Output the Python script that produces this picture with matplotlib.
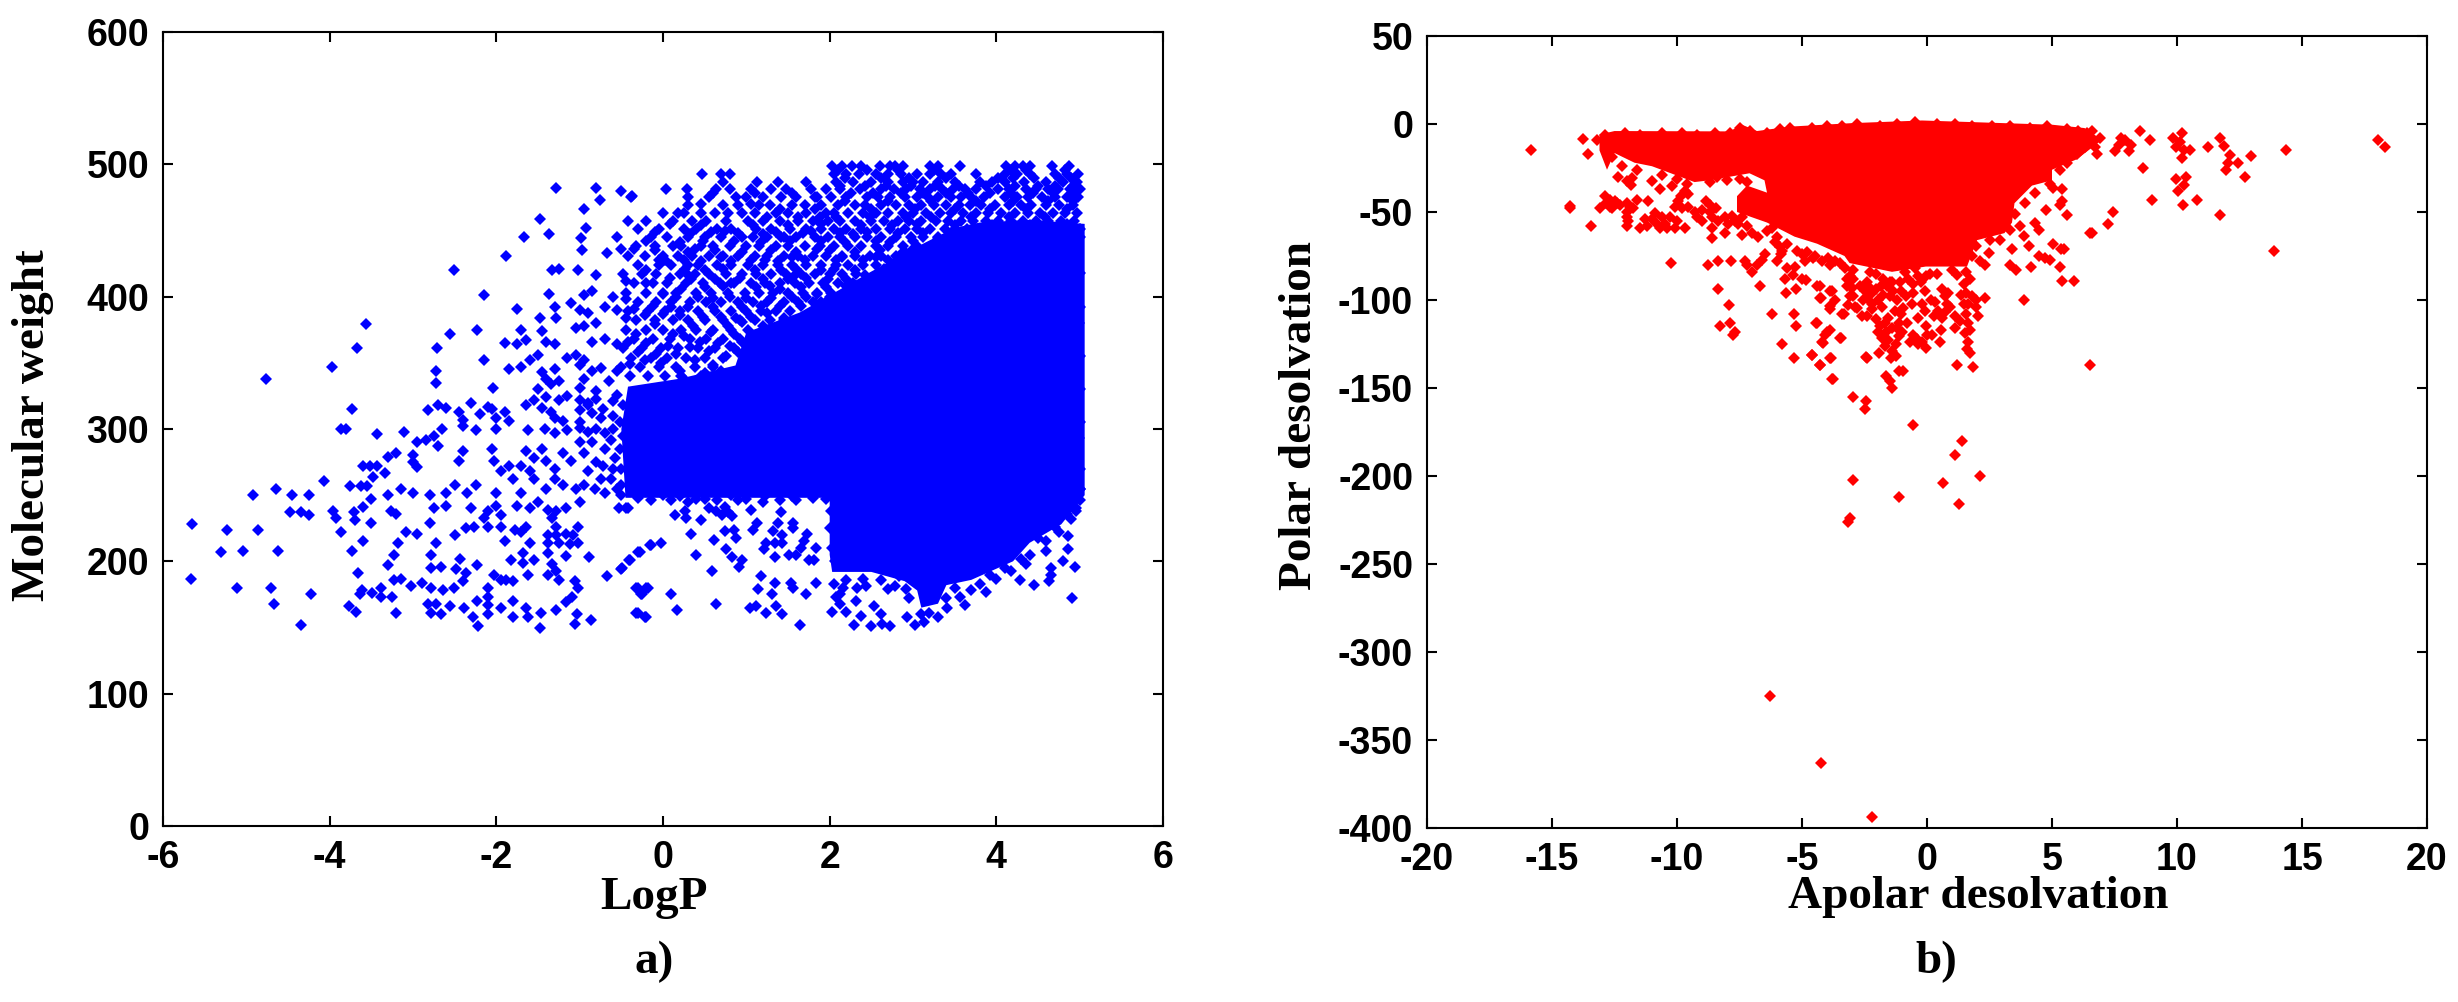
import matplotlib
matplotlib.use('Agg')
import matplotlib.pyplot as plt

plt.rcParams['axes.unicode_minus'] = False

# panel a) solid part of the cloud, outline
core_logp = [-0.45, -0.5, -0.42, 0.2, 0.87, 1.0, 1.64, 2.5, 3.15, 3.5, 3.8, 4.4, 5.06, 5.06, 4.78, 4.4, 4.2, 3.7, 3.4, 3.3, 3.1, 3.05, 2.9, 2.5, 2.03, 2.0, 2.0, -0.45]
core_mw = [248, 300, 332, 338, 348, 373, 388, 419, 441, 452, 456, 458, 455, 250, 228, 214, 200, 186, 182, 168, 165, 178, 185, 192, 192, 205, 248, 248]

# panel a) separate points, low LogP side
tail_a = [(-4.76, 338), (-3.97, 347), (-3.67, 361), (-3.56, 379), (-2.51, 420), (-2.15, 401), (-1.89, 431), (-1.67, 445),
          (-1.48, 459), (-1.37, 447), (-1.28, 482), (-0.81, 482), (-0.76, 473), (-0.51, 480), (-0.37, 476), (-0.95, 466),
          (-0.92, 452), (-0.99, 444), (-0.97, 435), (-1.75, 391), (-1.48, 384), (-2.56, 372), (-2.23, 375), (-2.71, 361),
          (-2.73, 344), (-2.73, 335), (-2.04, 331), (-3.73, 315), (-3.87, 300), (-3.8, 300), (-3.43, 296), (-3.11, 298),
          (-1.33, 420), (-1.25, 421), (-1.02, 420), (-0.8, 416), (-0.67, 433), (-0.5, 436), (-1.37, 402), (-0.95, 401),
          (-0.85, 404), (-0.6, 400), (-0.45, 398), (-1.3, 392), (-1.1, 395), (-1.0, 390), (-0.9, 388), (-0.7, 392), (-0.55, 390),
          (-1.28, 384), (-1.7, 375), (-1.45, 374), (-1.05, 376), (-0.95, 378), (-0.8, 380), (-1.9, 365), (-1.75, 364), (-1.65, 367),
          (-1.4, 366), (-1.3, 364), (-0.85, 366), (-0.7, 368), (-0.55, 364), (-2.15, 352), (-1.6, 352), (-1.5, 356), (-1.15, 354),
          (-1.05, 356), (-0.95, 352), (-1.85, 345), (-1.7, 347), (-1.45, 343), (-1.3, 345), (-1.0, 348), (-0.85, 344), (-0.75, 346),
          (-0.55, 344), (-1.4, 338), (-1.25, 336), (-0.95, 338), (-0.65, 336), (-1.35, 334), (-1.5, 330), (-1.0, 331), (-0.8, 329),
          (-1.55, 322), (-1.4, 324), (-1.25, 322), (-1.15, 325), (-1.0, 322), (-0.9, 320), (-0.8, 323), (-0.6, 321),
          (-2.7, 318), (-2.3, 320), (-2.1, 317), (-1.65, 318), (-1.45, 316), (-2.82, 314), (-2.6, 316), (-2.45, 313), (-2.2, 311),
          (-2.05, 315), (-1.9, 313), (-1.35, 313), (-1.0, 314), (-0.85, 312), (-2.4, 307), (-2.0, 308), (-1.85, 306), (-1.3, 308),
          (-1.2, 306), (-1.0, 305), (-0.75, 308), (-2.65, 300), (-2.4, 302), (-2.25, 299), (-2.0, 300), (-1.62, 299), (-1.42, 300),
          (-1.3, 297), (-1.15, 299), (-1.0, 301), (-0.9, 298), (-0.8, 300), (-0.7, 297), (-0.6, 300), (-3.2, 282), (-3.3, 279),
          (-3.0, 280), (-2.95, 290), (-2.85, 292), (-2.75, 295), (-2.7, 287), (-3.0, 275), (-2.95, 271), (-2.4, 283), (-2.45, 276),
          (-2.05, 285), (-2.03, 276), (-1.95, 268), (-1.85, 272), (-1.8, 262), (-1.65, 283), (-1.55, 278), (-1.7, 272), (-1.6, 268),
          (-1.45, 285), (-1.4, 276), (-1.3, 270), (-1.55, 262), (-1.3, 262), (-1.2, 282), (-1.1, 276), (-1.0, 290), (-0.95, 282),
          (-0.8, 275), (-0.7, 285), (-0.9, 268), (-0.75, 262), (-0.6, 270), (-0.55, 255), (-1.05, 255), (-1.2, 258), (-1.4, 255),
          (-1.7, 252), (-2.0, 252), (-2.25, 258), (-2.35, 252), (-2.5, 258), (-2.6, 252), (-2.8, 250), (-3.0, 252), (-3.15, 255),
          (-3.3, 250), (-3.5, 247), (-4.92, 250), (-4.64, 255), (-4.45, 250), (-4.25, 250), (-4.07, 261), (-3.76, 257), (-3.63, 257),
          (-3.55, 257), (-3.6, 272), (-3.52, 272), (-3.43, 272), (-3.48, 264), (-3.34, 267)]
tail_b = [(-5.65, 228), (-5.67, 187), (-5.31, 207), (-5.23, 224), (-5.04, 208), (-4.86, 224), (-4.62, 208), (-5.11, 180), (-4.7, 180),
          (-4.67, 168), (-4.22, 175), (-4.34, 152), (-4.48, 237), (-4.34, 237), (-4.25, 235), (-3.96, 238), (-3.93, 233), (-3.71, 237),
          (-3.7, 231), (-3.6, 241), (-3.51, 229), (-3.87, 222), (-3.27, 238), (-3.2, 236), (-3.73, 208), (-3.6, 215), (-3.66, 191),
          (-3.77, 166), (-3.68, 162), (-3.61, 178), (-3.64, 175), (-3.49, 176), (-3.38, 180), (-3.38, 173), (-3.25, 173), (-3.23, 186),
          (-3.15, 187), (-3.2, 161), (-3.3, 197), (-3.23, 205), (-3.18, 214), (-3.08, 222), (-2.95, 221), (-2.8, 229), (-3.02, 181),
          (-2.89, 184), (-2.79, 180), (-2.64, 178), (-2.51, 180), (-2.4, 185), (-2.79, 205), (-2.72, 214), (-2.79, 195), (-2.66, 196),
          (-2.82, 168), (-2.72, 168), (-2.79, 161), (-2.66, 160), (-2.56, 166), (-2.39, 165), (-2.28, 158), (-2.22, 151), (-2.23, 170),
          (-2.1, 160), (-2.1, 167), (-1.95, 165), (-1.8, 170), (-1.8, 158), (-1.65, 165), (-1.62, 158), (-1.47, 161), (-1.48, 150),
          (-1.29, 163), (-1.17, 169), (-1.06, 153), (-1.03, 160), (-0.87, 156), (-1.09, 173), (-1.02, 180), (-1.06, 185), (-0.89, 203),
          (-0.67, 189), (-0.51, 194), (-0.4, 201), (-0.28, 207), (-0.15, 212), (-0.3, 180), (-0.18, 180), (-0.25, 175), (-0.3, 161),
          (-0.2, 158), (-0.53, 240), (-0.42, 240), (-2.03, 190), (-1.95, 186), (-1.88, 186), (-1.8, 185), (-2.1, 180), (-2.1, 173),
          (-2.36, 191), (-2.23, 197), (-2.44, 202), (-2.49, 194), (-1.83, 201), (-1.68, 206), (-1.55, 201), (-1.62, 190), (-1.68, 199),
          (-1.38, 206), (-1.33, 198), (-1.28, 193), (-1.38, 190), (-1.25, 186), (-1.17, 204), (-1.38, 220), (-1.28, 220), (-1.17, 221),
          (-1.08, 220), (-1.38, 214), (-1.25, 214), (-1.12, 213), (-1.02, 214), (-1.28, 226), (-1.02, 226), (-1.38, 239), (-1.28, 238),
          (-1.17, 240), (-1.33, 233), (-1.65, 226), (-1.78, 224), (-1.7, 222), (-1.6, 214), (-2.5, 220), (-2.37, 225), (-2.27, 226),
          (-2.1, 226), (-1.95, 226), (-1.9, 215), (-2.75, 240), (-2.6, 242), (-2.3, 240), (-2.1, 238), (-2.0, 242), (-1.75, 242),
          (-1.6, 240), (-2.15, 233), (-1.95, 235), (-1.5, 245), (-1.0, 245)]
under_gap = [(-0.44, 240), (0.14, 235), (0.26, 238), (0.28, 233), (0.45, 231), (0.55, 240), (0.63, 238), (0.71, 235), (0.78, 237), (0.74, 241),
             (0.83, 234), (1.06, 239), (1.42, 237), (1.38, 229), (1.56, 229), (1.56, 225), (1.13, 229), (1.08, 224), (0.74, 223), (0.85, 224),
             (0.87, 218), (0.34, 221), (0.61, 216), (1.32, 223), (1.43, 220), (1.73, 221), (1.69, 215), (1.23, 214), (1.34, 214), (1.43, 214),
             (1.21, 209), (1.84, 210), (1.51, 205), (1.6, 205), (1.66, 210), (1.34, 203), (1.75, 201), (1.81, 201), (0.75, 209), (0.83, 203),
             (0.95, 201), (0.91, 196), (0.4, 205), (-0.02, 214), (-0.16, 212), (-0.3, 207), (-0.41, 201), (-0.49, 195), (0.59, 193), (1.17, 189),
             (1.34, 184), (1.54, 184), (1.56, 180), (1.84, 184), (1.14, 179), (1.31, 175), (1.72, 175), (-0.33, 180), (-0.2, 180), (-0.27, 175),
             (0.09, 175), (0.64, 168), (0.17, 163), (-0.33, 161), (-0.22, 158), (1.04, 165), (1.12, 166), (1.23, 161), (1.36, 166), (1.43, 160),
             (1.64, 152), (0.1, 246), (0.3, 245), (0.5, 247), (0.9, 246), (1.2, 245), (1.6, 246)]
lower_right = [(4.86, 219), (4.86, 209), (4.94, 196), (4.8, 200), (4.65, 195), (4.65, 190), (4.63, 185), (4.91, 172), (4.45, 182), (4.28, 186),
               (4.3, 202), (4.59, 208), (4.5, 218), (3.88, 177), (3.69, 178), (3.62, 167), (3.56, 173), (3.41, 165), (3.3, 158), (3.19, 161),
               (3.13, 154), (3.02, 152), (2.93, 158), (2.72, 151), (2.63, 153), (2.61, 160), (2.5, 151), (2.29, 152), (2.38, 159), (2.53, 166),
               (2.31, 170), (2.03, 162), (2.2, 162), (2.12, 168), (2.07, 173), (2.16, 180), (2.33, 180), (2.44, 181), (2.7, 179), (2.78, 181),
               (2.91, 179), (2.83, 189), (3.4, 172), (4.0, 187), (3.92, 190), (2.12, 175), (2.05, 183), (3.1, 160), (3.25, 172), (4.95, 240),
               (4.9, 232), (5.0, 255), (4.75, 222), (4.4, 205), (4.1, 195), (2.2, 186), (2.4, 187), (2.62, 186), (2.95, 172), (3.5, 180), (3.8, 183),
               (4.18, 193), (4.35, 198), (4.6, 215), (4.7, 226), (4.85, 236), (2.06, 200), (2.03, 210), (2.0, 225), (2.02, 238)]

# panel a) thinner upper part of the cloud, one LogP list per MW level
rows_mw = [499, 493, 487, 481, 475, 469, 463, 457, 451, 445, 438, 431, 424, 417, 410, 403, 396, 389, 382, 375, 368, 361, 354, 347, 340]
rows_logp = [
    [2.03, 2.15, 2.27, 2.37, 2.6, 2.72, 2.78, 2.88, 3.2, 3.3, 3.56, 4.12, 4.22, 4.32, 4.4, 4.67, 4.87],
    [0.47, 0.7, 0.8, 2.05, 2.2, 2.35, 2.55, 2.7, 2.85, 3.05, 3.2, 3.33, 3.45, 3.75, 4.1, 4.25, 4.4, 4.7, 4.85, 4.98],
    [0.72, 1.13, 1.38, 1.71, 2.08, 2.28, 2.5, 2.7, 2.88, 3.0, 3.12, 3.3, 3.5, 3.8, 3.95, 4.1, 4.33, 4.6, 4.8, 4.97],
    [0.03, 0.29, 0.64, 0.8, 1.05, 1.3, 1.48, 1.78, 1.95, 2.12, 2.36, 2.62, 2.77, 2.92, 3.08, 3.2, 3.35, 3.48, 3.62, 3.76, 4.02, 4.15, 4.35, 4.48, 4.62, 4.74, 4.88, 5.0],
    [-0.38, 0.3, 0.55, 0.88, 1.0, 1.2, 1.42, 1.6, 1.85, 2.02, 2.2, 2.45, 2.58, 2.72, 2.9, 3.05, 3.18, 3.3, 3.45, 3.58, 3.7, 3.85, 4.1, 4.25, 4.38, 4.55, 4.7, 4.85, 4.98],
    [0.3, 0.72, 0.9, 1.15, 1.28, 1.55, 1.7, 1.9, 2.1, 2.3, 2.42, 2.62, 2.8, 2.95, 3.1, 3.25, 3.4, 3.55, 3.68, 3.82, 3.98, 4.15, 4.3, 4.42, 4.6, 4.75, 4.92],
    [0.0, 0.18, 0.45, 0.62, 0.95, 1.1, 1.35, 1.5, 1.72, 1.95, 2.05, 2.22, 2.4, 2.55, 2.7, 2.88, 3.0, 3.15, 3.32, 3.45, 3.6, 3.75, 3.9, 4.05, 4.22, 4.38, 4.52, 4.68, 4.82, 4.97],
    [-0.42, -0.2, 0.12, 0.35, 0.52, 0.75, 1.02, 1.2, 1.4, 1.62, 1.8, 1.98, 2.12, 2.3, 2.5, 2.65, 2.82, 2.95, 3.1, 3.28, 3.42, 3.58, 3.72, 3.88, 4.02, 4.18, 4.32, 4.48, 4.62, 4.78, 4.93],
    [-0.3, -0.05, 0.25, 0.4, 0.65, 0.82, 1.12, 1.3, 1.52, 1.72, 1.9, 2.05, 2.2, 2.38, 2.55, 2.72, 2.9, 3.05, 3.2, 3.38, 3.5, 3.65, 3.8, 3.95, 4.1, 4.25, 4.4, 4.55, 4.72, 4.88, 5.0],
    [-0.55, -0.15, 0.05, 0.3, 0.5, 0.7, 0.95, 1.08, 1.25, 1.42, 1.6, 1.82, 1.98, 2.12, 2.3, 2.45, 2.62, 2.8, 2.98, 3.12, 3.3, 3.45, 3.6, 3.75],
    [-0.32, -0.1, 0.12, 0.22, 0.45, 0.6, 0.8, 1.0, 1.15, 1.35, 1.5, 1.7, 1.88, 2.05, 2.22, 2.38, 2.55, 2.7, 2.88, 3.05],
    [-0.42, -0.22, 0.0, 0.18, 0.35, 0.55, 0.72, 0.9, 1.1, 1.25, 1.45, 1.62, 1.8, 1.95, 2.15, 2.3, 2.48, 2.62, 2.8, 3.0],
    [-0.3, -0.05, 0.1, 0.3, 0.42, 0.65, 0.82, 1.02, 1.2, 1.38, 1.55, 1.72, 1.9, 2.08, 2.22, 2.4, 2.55],
    [-0.48, -0.25, -0.08, 0.2, 0.38, 0.55, 0.75, 0.95, 1.12, 1.3, 1.48, 1.65, 1.82, 2.0, 2.15, 2.32],
    [-0.35, -0.12, 0.05, 0.28, 0.48, 0.68, 0.85, 1.05, 1.22, 1.4, 1.58, 1.75, 1.92, 2.1, 2.28],
    [-0.45, -0.2, 0.0, 0.15, 0.4, 0.58, 0.78, 0.98, 1.15, 1.32, 1.5, 1.68, 1.85, 2.02],
    [-0.3, -0.08, 0.1, 0.32, 0.52, 0.7, 0.9, 1.08, 1.25, 1.45, 1.62, 1.8, 1.95],
    [-0.42, -0.18, 0.02, 0.2, 0.42, 0.62, 0.82, 1.0, 1.18, 1.35, 1.52],
    [-0.33, -0.1, 0.12, 0.3, 0.5, 0.72, 0.92, 1.1, 1.28, 1.45],
    [-0.45, -0.2, 0.0, 0.22, 0.4, 0.6, 0.82, 1.02],
    [-0.35, -0.12, 0.08, 0.32, 0.52, 0.72, 0.92],
    [-0.48, -0.25, -0.02, 0.18, 0.42, 0.62, 0.85],
    [-0.38, -0.15, 0.05, 0.28, 0.5, 0.72],
    [-0.5, -0.28, -0.05, 0.15, 0.38, 0.6],
    [-0.4, -0.18, 0.02, 0.22, 0.45],
]
# clumps between those levels, and the rough rim of the solid part
clumps_a = [(-0.4, 349), (-0.22, 352), (-0.02, 350), (0.2, 344), (0.38, 352), (0.6, 348), (0.75, 355), (0.9, 358), (-0.3, 358), (-0.08, 357),
            (0.15, 357), (0.32, 362), (0.55, 359), (0.8, 363), (-0.42, 366), (-0.2, 365), (0.06, 363), (0.25, 370), (0.44, 366), (0.66, 365),
            (0.85, 372), (-0.33, 372), (-0.1, 379), (0.12, 372), (0.36, 378), (0.58, 373), (0.78, 378), (0.95, 381), (-0.45, 384), (-0.22, 386),
            (0.0, 387), (0.2, 386), (0.48, 385), (0.7, 385), (0.88, 384), (1.05, 385), (1.25, 388), (-0.35, 391), (-0.12, 393), (0.1, 392), (0.3, 392),
            (0.6, 392), (0.95, 392), (1.18, 393), (1.4, 393), (1.65, 393), (1.82, 395), (0.16, 400), (0.42, 400), (0.6, 399), (0.8, 400), (1.0, 399),
            (1.3, 399), (1.55, 400), (1.72, 400), (2.0, 400), (2.1, 398), (0.22, 406), (0.5, 407), (0.72, 408), (1.12, 407), (1.4, 406), (1.65, 407),
            (1.95, 407), (2.25, 406), (0.08, 414), (0.34, 413), (0.62, 413), (0.92, 414), (1.2, 413), (1.5, 413), (1.72, 414), (1.98, 413), (2.2, 413),
            (2.42, 412), (-0.2, 420), (0.26, 421), (0.5, 420), (0.72, 421), (1.1, 420), (1.42, 420), (1.6, 421), (1.9, 420), (2.05, 421), (2.3, 420),
            (2.65, 421), (0.02, 428), (0.25, 428), (0.45, 427), (0.82, 427), (1.22, 428), (1.38, 427), (1.7, 428), (2.08, 428), (2.4, 428), (2.7, 428),
            (2.95, 427), (-0.1, 435), (0.3, 434), (0.62, 435), (0.95, 434), (1.3, 435), (1.6, 434), (2.0, 435), (2.3, 434), (2.6, 435), (2.9, 434),
            (3.2, 434), (-0.2, 442), (0.2, 441), (0.48, 442), (0.85, 442), (1.18, 441), (1.52, 442), (1.9, 442), (2.18, 441), (2.55, 442), (2.72, 441),
            (3.0, 442), (3.38, 441), (3.62, 442), (0.58, 449), (0.9, 448), (1.35, 449), (1.68, 448), (2.12, 448), (2.45, 449), (2.82, 448), (3.12, 448),
            (3.45, 448), (0.08, 455), (0.45, 454), (1.08, 454), (1.5, 454), (1.9, 455), (2.38, 454), (2.75, 454), (3.05, 455), (3.5, 454), (3.95, 454),
            (4.4, 454), (4.85, 455), (2.08, 460), (2.48, 460), (2.92, 460), (3.22, 460), (3.7, 460), (4.15, 460), (4.58, 460), (2.5, 466), (3.02, 466),
            (3.5, 466), (3.92, 466), (4.35, 466), (4.85, 466), (2.18, 472), (2.7, 472), (3.22, 472), (3.75, 472), (4.2, 472), (4.62, 472), (4.92, 472),
            (-0.9, 318), (-0.72, 315), (-0.6, 310), (-0.52, 305), (-0.48, 318), (-0.55, 326), (-0.62, 292), (-0.52, 285), (-0.48, 295), (-0.58, 278),
            (-0.5, 270), (-0.62, 262), (-0.5, 258), (-0.72, 272), (-0.85, 290), (-0.82, 255), (-0.95, 258), (-0.7, 252), (-0.5, 250), (-0.35, 252)]
top_band = [(2.25, 478), (2.52, 478), (2.85, 478), (3.12, 478), (3.4, 478), (3.66, 478), (3.92, 478), (4.18, 478), (4.44, 478), (4.68, 478), (4.93, 478),
            (2.12, 484), (2.42, 484), (2.68, 484), (2.98, 484), (3.26, 484), (3.55, 484), (3.88, 484), (4.22, 484), (4.5, 484), (4.7, 484), (4.92, 484),
            (2.18, 490), (2.62, 490), (2.95, 490), (3.4, 490), (4.02, 490), (4.2, 490), (4.45, 490), (4.75, 490), (4.9, 490), (2.1, 496), (2.45, 496), (2.82, 496),
            (3.25, 496), (4.18, 496), (4.35, 496), (4.82, 496), (0.6, 478), (1.1, 478), (1.55, 478), (1.82, 475), (0.45, 470), (1.05, 470), (1.4, 466), (1.82, 466),
            (0.25, 463), (0.78, 463), (1.25, 460), (1.62, 460), (1.88, 460), (-0.1, 449), (0.32, 447), (0.74, 450), (1.2, 447), (1.45, 445), (1.78, 450), (2.28, 447),
            (-0.35, 436), (-0.05, 428), (0.38, 436), (0.7, 430), (1.05, 428), (1.55, 430), (1.85, 436), (2.15, 430), (2.55, 430), (2.85, 432), (-0.45, 412), (-0.2, 410),
            (0.0, 402), (0.3, 416), (0.82, 410), (1.28, 408), (1.58, 416), (1.85, 402)]
edge_a = [(-0.3, 248), (-0.15, 246), (0.0, 250), (0.2, 249), (0.4, 247), (0.65, 246), (0.82, 250), (1.0, 247), (1.22, 249), (1.4, 246), (1.55, 249),
          (1.8, 248), (1.95, 247), (0.25, 338), (0.5, 342), (0.7, 344), (0.95, 366), (1.2, 378), (1.45, 384), (1.9, 396), (2.2, 408), (2.42, 416),
          (2.8, 427), (3.0, 436), (3.3, 444), (3.6, 446)]
right_edge_logp = [5.0, 4.98, 5.0, 4.97, 5.0, 4.99, 4.98, 5.0, 4.97, 5.0, 4.98, 5.0, 4.99, 4.97, 5.0, 4.98, 5.0, 4.96, 5.0, 4.98]
right_edge_mw = [445, 430, 418, 405, 392, 380, 368, 355, 342, 330, 318, 305, 293, 282, 270, 262, 255, 238, 246, 432]

# panel b) solid part of the cloud
core_apolar = [-13.1, -12.5, -7.9, -7.4, -6.8, -5.5, -3.0, -0.2, 5.0, 6.3, 7.0, 6.0, 5.0, 5.0, 4.2, 3.5, 3.4, 3.1, 2.0, 1.6, -0.05, -1.4, -3.1, -3.3, -4.4, -5.3, -6.4, -7.6, -7.6, -7.2, -6.4, -6.5, -7.1, -8.7, -9.3, -11.0, -11.7, -12.5, -12.8, -13.1]
core_polar = [-6, -4, -4.2, -0.4, -4, -1.5, 0.5, 2, -0.4, -2.3, -9, -20, -26, -32, -35, -45, -56, -62, -66, -81, -81, -84, -79, -75, -68, -64, -56, -50, -41, -35, -39, -32, -28, -32, -33, -24, -22, -16.5, -26, -15]

# panel b) separate points
left_wing = [(-15.84, -14.6), (-13.76, -8.5), (-13.56, -16.9), (-13.2, -9), (-12.36, -30), (-12.0, -32.6), (-11.8, -30.7), (-11.85, -34.5),
             (-11.0, -32.6), (-10.7, -37), (-10.2, -35), (-8.7, -33), (-14.28, -46.8), (-14.3, -47.5), (-13.44, -57.8), (-12.88, -41), (-13.1, -48),
             (-12.7, -47), (-12.4, -45), (-12.85, -45), (-12.6, -48), (-12.0, -45), (-11.6, -43), (-12.0, -50), (-12.0, -53), (-12.0, -58), (-11.9, -47),
             (-11.16, -43.6), (-11.2, -57.8), (-10.9, -50.6), (-11.0, -54), (-10.7, -59), (-10.3, -53), (-10.5, -57), (-10.1, -59), (-9.7, -59), (-9.7, -38),
             (-9.95, -44), (-10.1, -47), (-9.8, -48), (-9.0, -49), (-8.7, -46), (-8.7, -50), (-9.0, -55), (-8.6, -53), (-8.1, -53), (-7.7, -55),
             (-8.6, -59), (-8.1, -62), (-8.6, -65), (-7.4, -53), (-7.2, -58), (-7.4, -63), (-6.4, -61), (-6.0, -64), (-5.9, -70), (-5.85, -74),
             (-10.24, -79), (-8.76, -80), (-8.36, -77.6), (-7.84, -77.6), (-7.2, -80), (-7.0, -84), (-6.8, -80), (-6.5, -74), (-6.6, -77), (-6.0, -77.6),
             (-12.7, -43), (-12.5, -44), (-12.3, -46), (-11.95, -55), (-11.75, -48), (-11.5, -59), (-11.3, -54), (-10.85, -56), (-10.6, -53), (-10.4, -59),
             (-10.0, -55), (-9.55, -40), (-9.85, -41), (-9.55, -47), (-9.3, -50), (-9.2, -53), (-8.85, -44), (-8.45, -48), (-8.35, -55), (-7.95, -57),
             (-7.8, -52), (-7.55, -57), (-7.0, -62), (-6.75, -64), (-6.2, -59), (-6.1, -67), (-5.6, -68), (-5.2, -72), (-5.0, -74), (-4.8, -73), (-4.5, -75),
             (-3.95, -76), (-3.7, -78), (-3.3, -82), (-5.8, -72), (-7.3, -78), (-12.6, -19), (-12.2, -24), (-11.6, -26), (-10.6, -29), (-10.0, -31),
             (-9.6, -34), (-8.4, -30), (-8.0, -32), (-7.5, -31), (-7.2, -33), (-12.9, -6), (-12.1, -5), (-11.5, -6), (-10.6, -5), (-9.8, -5), (-9.2, -6),
             (-8.5, -5), (-7.9, -5), (-7.5, -2), (-7.1, -4), (-6.4, -5), (-5.9, -3), (-5.5, -2), (-4.6, -2), (-4.0, -1), (-3.4, -1), (-2.8, 0), (-1.9, -1), (-1.2, 0),
             (-0.5, 1), (0.4, 0), (1.1, 0), (1.8, -1), (2.6, -1), (3.3, -1), (4.1, -2), (4.8, -1), (5.6, -3), (6.05, -4), (6.4, -5), (6.3, -13), (6.0, -17), (5.6, -22),
             (5.3, -26), (4.9, -34), (4.3, -39), (3.9, -45), (3.5, -51), (3.7, -58), (3.3, -60), (2.9, -66), (2.5, -66)]
lower_wing = [(-8.37, -93.6), (-7.92, -102.6), (-6.7, -92), (-6.2, -107.8), (-5.34, -107.8), (-8.3, -114.6), (-7.9, -113), (-7.7, -118), (-7.75, -120),
              (-5.26, -114.6), (-4.42, -113), (-4.1, -120), (-3.9, -117), (-4.2, -124), (-3.47, -121.6), (-5.8, -125), (-5.34, -133), (-4.6, -131.4),
              (-4.3, -136.7), (-3.86, -133), (-3.8, -145), (-2.42, -133), (-2.96, -155), (-2.45, -157.6), (-2.5, -162), (-5.6, -82), (-5.7, -88),
              (-5.35, -86), (-5.0, -88), (-5.25, -94), (-5.65, -96), (-5.3, -81), (-4.9, -78), (-4.4, -92), (-4.3, -99), (-3.9, -95), (-3.7, -100),
              (-3.9, -105), (-3.4, -108), (-3.2, -88), (-3.1, -98), (-2.9, -104), (-2.6, -109), (-4.55, -76), (-4.2, -78), (-3.9, -80), (-3.49, -79),
              (-3.07, -86.6), (-3.07, -92), (-2.4, -90), (-2.06, -94), (-2.56, -100), (-1.98, -100), (-1.39, -89.6), (-1.47, -98), (-0.55, -96),
              (-0.21, -102), (0.29, -109), (0.71, -107), (1.46, -102), (1.8, -98), (-0.38, -86.6), (-0.05, -86.6), (2.3, -99), (1.97, -100), (1.55, -96),
              (1.46, -91), (1.55, -84), (2.05, -109), (1.72, -117), (1.63, -124), (1.72, -130), (1.83, -138), (1.18, -136.7), (1.1, -116), (1.1, -109),
              (0.71, -98), (0.79, -102), (0.54, -117), (0.5, -124), (-0.05, -115), (-0.05, -127), (-0.55, -120), (-0.97, -104.5), (-1.14, -113),
              (-1.14, -120.6), (-1.39, -129), (-1.9, -115), (-1.81, -121.6), (-2.4, -109), (-1.93, -130), (-2.43, -132.6), (-2.8, -104.5), (-2.98, -98),
              (-3.32, -107.8), (-3.87, -103.6), (-3.82, -95), (-4.24, -99), (-4.3, -92), (-4.83, -88.4), (-4.44, -113), (-3.99, -118), (-4.16, -124.4),
              (-3.45, -121.6), (-4.61, -131.4), (-3.87, -133), (-4.3, -136.7), (-3.77, -145), (-1.64, -143), (-1.47, -146), (-1.39, -150), (-1.14, -140.5),
              (-0.97, -140.5), (-2.06, -111), (-2.2, -105), (-1.65, -118), (-1.25, -125), (-1.05, -108), (-0.4, -122), (-0.2, -124), (-2.2, -96), (-1.6, -92),
              (-1.2, -100), (-2.7, -92), (-0.1, -95), (0.3, -101), (1.97, -69.5), (2.47, -73.3), (1.8, -75.2), (2.3, -80), (2.1, -78), (-1.8, -104), (-1.95, -118),
              (-2.95, -88), (-2.95, -83), (-2.3, -84), (-2.05, -85), (-1.75, -88), (-1.5, -90), (-1.35, -95), (-1.85, -92), (-1.75, -97), (-2.25, -94), (-2.4, -99),
              (-1.1, -90), (-0.75, -88), (-0.55, -91), (-0.25, -90), (0.1, -85), (0.4, -85), (0.6, -94), (0.85, -96), (1.2, -86), (1.35, -97), (1.65, -102), (1.95, -104),
              (1.55, -108), (1.3, -112), (1.62, -113), (1.5, -119), (1.6, -128), (0.9, -104), (0.6, -110), (0.42, -106), (0.15, -100), (-0.1, -106), (-0.35, -110),
              (-0.6, -102), (-0.85, -98), (-1.05, -95), (-1.3, -106), (-1.55, -110), (-1.7, -113), (-1.4, -116), (-1.55, -123), (-1.7, -126), (-1.2, -116), (-1.0, -118),
              (-1.25, -132), (-1.45, -133), (-0.8, -113), (-2.5, -95), (-2.2, -102), (-3.0, -93), (-3.15, -103), (-3.2, -92), (-0.9, -84), (-0.5, -82), (1.0, -83),
              (1.7, -88), (-0.35, -125), (0.2, -120), (0.0, -120), (-0.7, -124)]
right_wing = [(18.04, -9), (18.33, -13), (14.35, -14.6), (13.88, -72.3), (11.7, -51.5), (12.7, -30), (12.96, -18.4), (12.45, -22), (11.95, -26),
              (12.03, -22), (12.1, -17.4), (11.87, -12.7), (11.7, -8), (11.23, -13), (10.78, -43.4), (10.22, -46), (9.0, -43.4), (10.02, -38), (9.94, -31),
              (10.35, -30), (10.27, -34.5), (8.64, -25), (8.93, -9.3), (8.51, -4.2), (8.09, -15.5), (8.17, -11.7), (7.76, -8), (7.5, -15.5), (7.67, -11.7),
              (7.9, -9), (9.85, -8), (10.19, -5), (10.1, -10), (10.27, -14.6), (10.19, -19.3), (10.52, -14.6), (9.95, -13), (7.45, -50), (7.25, -57),
              (6.5, -62), (6.6, -62), (6.53, -136.7), (5.41, -36.7), (5.04, -36.4), (5.41, -44), (5.3, -46), (5.6, -51.5), (4.48, -60), (4.32, -56), (4.74, -48.7),
              (3.86, -99.8), (5.41, -89.4), (5.88, -89.4), (5.32, -81.4), (5.49, -71), (5.35, -71), (5.04, -68), (4.9, -77), (4.48, -75), (4.7, -76),
              (4.15, -81), (4.07, -69.5), (3.86, -63.8), (3.39, -71), (3.31, -80), (3.56, -82.8), (6.6, -4), (6.9, -8), (6.7, -13), (6.8, -17)]
far_points = [(-2.95, -202.5), (-0.55, -170.8), (1.38, -180), (1.1, -188), (2.1, -199.8), (0.62, -204), (-6.28, -325), (-4.25, -363),
              (-2.22, -394), (-3.16, -226), (-3.1, -224), (-1.12, -212), (1.26, -216)]

xticks_a = [-6, -4, -2, 0, 2, 4, 6]
yticks_a = [0, 100, 200, 300, 400, 500, 600]
xticks_b = [-20, -15, -10, -5, 0, 5, 10, 15, 20]
yticks_b = [50, 0, -50, -100, -150, -200, -250, -300, -350, -400]

W, H = 2458, 1002
fig = plt.figure(figsize=(W / 100, H / 100), dpi=100)
ax1 = fig.add_axes([163 / W, 1 - 826 / H, 1000 / W, 794 / H])
ax2 = fig.add_axes([1427 / W, 1 - 828 / H, 1000 / W, 792 / H])


def draw_points(ax, pts, color):
    ax.plot([p[0] for p in pts], [p[1] for p in pts], ls='none', marker='D', ms=6.2, mew=0, color=color)


ax1.fill(core_logp, core_mw, color='#0000ff', lw=0)
for pts in [tail_a, tail_b, under_gap, lower_right, clumps_a, top_band, edge_a]:
    draw_points(ax1, pts, '#0000ff')
for mw, row in zip(rows_mw, rows_logp):
    draw_points(ax1, [(x, mw) for x in row], '#0000ff')
draw_points(ax1, list(zip(right_edge_logp, right_edge_mw)), '#0000ff')

ax2.fill(core_apolar, core_polar, color='#ff0000', lw=0)
for pts in [left_wing, lower_wing, right_wing, far_points]:
    draw_points(ax2, pts, '#ff0000')

for ax, xt, yt in [(ax1, xticks_a, yticks_a), (ax2, xticks_b, yticks_b)]:
    ax.set_xlim(xt[0], xt[-1])
    ax.set_ylim(min(yt), max(yt))
    ax.set_xticks(xt)
    ax.set_yticks(yt)
    ax.tick_params(direction='in', top=True, right=True, length=7, width=1.5, pad=10, labelsize=27)
    for s in ax.spines.values():
        s.set_linewidth(1.5)
    for lab in ax.get_xticklabels() + ax.get_yticklabels():
        lab.set_family('Liberation Sans')
        lab.set_weight('bold')

serif = dict(family='Liberation Serif', weight='bold', size=34)
fig.text(654 / W, 1 - 898 / H, 'LogP', ha='center', va='center', **serif)
fig.text(33 / W, 1 - 425 / H, 'Molecular weight', rotation=90, ha='center', va='center', **serif)
fig.text(654 / W, 1 - 962 / H, 'a)', ha='center', va='center', **serif)
fig.text(1978 / W, 1 - 897 / H, 'Apolar desolvation', ha='center', va='center', **serif)
fig.text(1300 / W, 1 - 415 / H, 'Polar desolvation', rotation=90, ha='center', va='center', **serif)
fig.text(1936 / W, 1 - 962 / H, 'b)', ha='center', va='center', **serif)

fig.savefig('out.png', dpi=100)
